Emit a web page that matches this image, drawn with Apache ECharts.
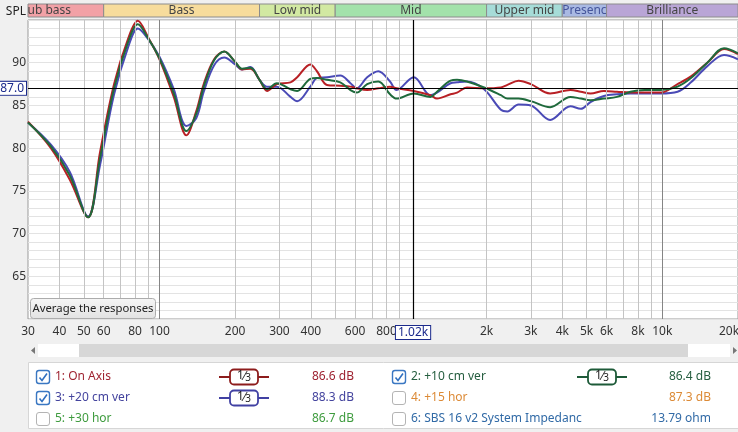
<!DOCTYPE html>
<html>
<head>
<meta charset="utf-8">
<script src="https://cdn.jsdelivr.net/npm/echarts@6/dist/echarts.min.js"></script>
<style>
html, body { margin: 0; padding: 0; background: #f0f0f0; }
#lineChart { width: 738px; height: 432px; }
</style>
</head>
<body>
<div id="lineChart"></div>
<script>
// frequencies (Hz) the three responses were read at
var freqs = [30, 37, 44, 52, 58, 66, 75, 82, 90, 100,
    114, 128, 140, 150, 165, 181, 200, 213, 230, 250,
    268, 293, 332, 353, 398, 423, 464, 524, 575, 609,
    670, 742, 826, 877, 1026, 1196, 1270, 1438, 1526, 1670,
    1955, 2280, 2420, 2680, 3000, 3580, 4310, 4740, 5180, 5860,
    6600, 7470, 8500, 9840, 11500, 13000, 15100, 17600, 20000];

var onAxis = [83.1, 80.0, 76.3, 71.9, 79.5, 87.5, 92.8, 94.9, 93.0, 90.4,
    86.0, 81.5, 84.3, 87.5, 90.4, 91.3, 90.1, 89.2, 89.3, 88.0,
    86.7, 87.5, 87.7, 88.3, 89.8, 89.0, 87.4, 87.3, 87.2, 87.0,
    86.8, 87.0, 87.2, 87.0, 86.7, 86.2, 85.8, 86.3, 86.5, 87.1,
    87.0, 87.1, 87.4, 87.9, 87.5, 86.4, 86.8, 86.6, 86.4, 86.7,
    86.6, 86.5, 86.5, 86.5, 87.5, 88.4, 90.0, 91.6, 91.0];

var ver10 = [83.0, 80.2, 76.8, 71.9, 78.8, 87.0, 92.4, 94.5, 92.9, 90.5,
    86.4, 82.0, 84.0, 87.2, 90.3, 91.3, 90.1, 89.3, 89.4, 88.0,
    86.9, 87.6, 86.9, 86.7, 88.1, 88.2, 88.0, 87.7, 86.8, 86.5,
    87.5, 87.8, 86.3, 85.8, 86.4, 86.0, 86.6, 87.9, 88.0, 87.8,
    87.1, 86.2, 85.8, 85.8, 85.5, 84.8, 86.0, 85.8, 85.6, 85.8,
    86.0, 86.6, 86.8, 86.8, 87.2, 88.2, 90.0, 91.7, 91.1];

var ver20 = [83.0, 80.4, 77.2, 72.0, 78.0, 86.3, 91.8, 94.0, 92.8, 90.7,
    86.9, 82.6, 83.5, 86.6, 89.7, 90.6, 89.8, 89.2, 89.5, 88.0,
    87.2, 87.2, 86.0, 85.5, 87.2, 88.2, 88.3, 88.5, 87.6, 87.0,
    88.3, 89.0, 87.8, 86.8, 88.3, 86.2, 86.5, 87.6, 87.7, 87.8,
    86.9, 84.5, 84.3, 85.1, 85.0, 83.3, 84.9, 84.6, 85.4, 86.1,
    86.3, 86.4, 86.4, 86.4, 86.6, 87.7, 89.6, 90.9, 90.4];

// tick labels
var xLabels = [30, 40, 50, 60, 80, 100, 200, 300, 400, 600, 800, 1020, 2000, 3000, 4000, 5000, 6000, 8000, 10000, 20000];
var yLabels = [65, 70, 75, 80, 85, 87, 90];
var cursorFreq = 1020;
var cursorSpl = 87;

// band strip along the top
var bandNames = ['ub bass', 'Bass', 'Low mid', 'Mid', 'Upper mid', 'Presenc', 'Brilliance'];
var bandEdges = [30, 60, 250, 500, 2000, 4000, 6000, 20000];
var bandColors = ['#f2a1a6', '#f7dc9c', '#d2e9a2', '#a3e2ab', '#a6dcd8', '#a9b9e3', '#b9a5d6'];

// vertical grid lines
var minorFreqs = [40, 50, 60, 70, 80, 90, 200, 300, 400, 500, 600, 700, 800, 900,
    2000, 3000, 4000, 5000, 6000, 7000, 8000, 9000];
var decadeFreqs = [100, 10000];

var font = 'Noto Sans';

function pairs(vals) {
    return freqs.map(function (f, i) { return [f, vals[i]]; });
}

var bandAreas = bandNames.map(function (n, i) {
    return [{
        name: n,
        xAxis: bandEdges[i],
        itemStyle: { color: bandColors[i] },
        label: {
            position: i === 0 ? 'insideLeft' : 'inside',
            distance: 0,
            color: i === 5 ? '#44549a' : '#444'
        }
    }, { xAxis: bandEdges[i + 1] }];
});

var gridLines = minorFreqs.map(function (f) {
    return { xAxis: f, lineStyle: { color: '#c4c4c4' } };
}).concat(decadeFreqs.map(function (f) {
    return { xAxis: f, lineStyle: { color: '#858585' } };
}));

// legend panel drawn with graphic elements
var rows = [377, 398, 419];
var legendItems = [
    { x: 36, row: 0, checked: true, name: '1: On Axis', color: '#9e2230', val: '86.6 dB', valX: 354, badge: '#8d1c1c', badgeX: 219 },
    { x: 36, row: 1, checked: true, name: '3: +20 cm ver', color: '#44449e', val: '88.3 dB', valX: 354, badge: '#4141a3', badgeX: 219 },
    { x: 36, row: 2, checked: false, name: '5: +30 hor', color: '#3f9c3f', val: '86.7 dB', valX: 354 },
    { x: 392, row: 0, checked: true, name: '2: +10 cm ver', color: '#265e40', val: '86.4 dB', valX: 711, badge: '#1d5a38', badgeX: 577 },
    { x: 392, row: 1, checked: false, name: '4: +15 hor', color: '#dc8a36', val: '87.3 dB', valX: 711 },
    { x: 392, row: 2, checked: false, name: '6: SBS 16 v2 System Impedanc', color: '#316aa6', val: '13.79 ohm', valX: 711 }
];

var graphics = [
    // Average button
    { type: 'rect', shape: { x: 30.5, y: 298.5, width: 125, height: 20, r: 3 },
      style: { fill: new echarts.graphic.LinearGradient(0, 0, 0, 1, [{ offset: 0, color: '#f6f6f6' }, { offset: 1, color: '#e2e2e2' }]), stroke: '#acacac' }, z: 100 },
    { type: 'text', x: 93, y: 308.5, style: { text: 'Average the responses', font: '11.3px ' + font, fill: '#222', align: 'center', verticalAlign: 'middle' }, z: 101 },
    // scrollbar
    { type: 'rect', shape: { x: 28, y: 344, width: 710, height: 13 }, style: { fill: '#f0f0f0' } },
    { type: 'rect', shape: { x: 38, y: 344, width: 41, height: 13 }, style: { fill: '#fff' } },
    { type: 'rect', shape: { x: 688, y: 344, width: 42, height: 13 }, style: { fill: '#fff' } },
    { type: 'rect', shape: { x: 79, y: 344, width: 609, height: 13 }, style: { fill: '#d7d7d7' } },
    { type: 'polygon', shape: { points: [[35, 347], [35, 354], [31, 350.5]] }, style: { fill: '#777' } },
    { type: 'polygon', shape: { points: [[733, 347], [733, 354], [737, 350.5]] }, style: { fill: '#777' } },
    // legend panel
    { type: 'rect', shape: { x: 28.5, y: 362.5, width: 710, height: 66 }, style: { fill: '#fff', stroke: '#d6d6d6' } }
];

legendItems.forEach(function (it) {
    var cy = rows[it.row];
    graphics.push({ type: 'rect', shape: { x: it.x + 0.5, y: cy - 6.5, width: 13, height: 13, r: 2.5 },
        style: { fill: '#fff', stroke: it.checked ? '#3a77c2' : '#b4b4b4', lineWidth: it.checked ? 1.4 : 1 }, z: 10 });
    if (it.checked) {
        graphics.push({ type: 'polyline', shape: { points: [[it.x + 3.5, cy + 0.5], [it.x + 6, cy + 3.5], [it.x + 11, cy - 3.5]] },
            style: { stroke: '#2f6fbf', lineWidth: 1.6, fill: null }, z: 11 });
    }
    graphics.push({ type: 'text', x: it.x + 19, y: cy, style: { text: it.name, font: '12px ' + font, fill: it.color, verticalAlign: 'middle' }, z: 10 });
    graphics.push({ type: 'text', x: it.valX, y: cy, style: { text: it.val, font: '12px ' + font, fill: it.color, align: 'right', verticalAlign: 'middle' }, z: 10 });
    if (it.badge) {
        var bx = it.badgeX;
        graphics.push({ type: 'line', shape: { x1: bx, y1: cy, x2: bx + 50, y2: cy }, style: { stroke: it.badge, lineWidth: 2 }, z: 10 });
        graphics.push({ type: 'rect', shape: { x: bx + 11, y: cy - 7.5, width: 28, height: 15, r: 4 }, style: { fill: '#fff', stroke: it.badge, lineWidth: 1.8 }, z: 11 });
        graphics.push({ type: 'text', x: bx + 25, y: cy, z: 12,
            style: { text: '{a|1}{b|⁄}{c|3}', align: 'center', verticalAlign: 'middle',
                rich: {
                    a: { font: '12px ' + font, fill: '#222', padding: [0, 0, 3, 0] },
                    b: { font: '12px ' + font, fill: '#222' },
                    c: { font: '10px ' + font, fill: '#222', padding: [3, 0, 0, 0] }
                } } });
    }
});

var boxLabel = { color: '#1b2a8c', borderColor: '#1b2a8c', borderWidth: 1, backgroundColor: '#fff', padding: [1, 2, 0, 2], fontFamily: font, fontSize: 12 };

var orderEcharts = echarts.init(document.getElementById('lineChart'));
orderEcharts.setOption({
    backgroundColor: '#f0f0f0',
    animation: false,
    textStyle: { fontFamily: font },
    grid: [
        { left: 28, right: 0, top: 20, bottom: 113, show: true, backgroundColor: '#fff', borderColor: '#9a9a9a', borderWidth: 1, outerBoundsMode: 'none', containLabel: false },
        { left: 28, right: 0, top: 4, height: 13, outerBoundsMode: 'none', containLabel: false }
    ],
    xAxis: [{
        type: 'log',
        logBase: 10,
        min: 30,
        max: 20000,
        gridIndex: 0,
        axisLine: { show: false },
        axisTick: { show: false },
        splitLine: { show: false },
        axisLabel: {
            customValues: xLabels,
            margin: 7,
            fontSize: 12,
            fontFamily: font,
            color: '#333',
            hideOverlap: false,
            formatter: function (v) {
                if (v === cursorFreq) return '{cur|1.02k}';
                if (v === 20000) return '{end|20k}';
                return v >= 1000 ? (v / 1000) + 'k' : '' + v;
            },
            rich: {
                cur: boxLabel,
                end: { fontSize: 12, fontFamily: font, color: '#333', padding: [0, 18, 0, 0] }
            }
        }
    }, {
        type: 'log',
        logBase: 10,
        min: 30,
        max: 20000,
        gridIndex: 1,
        show: false
    }],
    yAxis: [{
        type: 'value',
        min: 60,
        max: 95,
        interval: 1,
        gridIndex: 0,
        name: 'SPL',
        nameLocation: 'end',
        nameGap: 2,
        nameTextStyle: { align: 'right', fontSize: 12, fontFamily: font, color: '#222', padding: [0, 2, 0, 0] },
        axisLine: { show: false },
        axisTick: { show: false },
        splitLine: { show: true, lineStyle: { color: '#e3e3e3' } },
        axisLabel: {
            customValues: yLabels,
            margin: 2,
            fontSize: 12,
            fontFamily: font,
            color: '#333',
            formatter: function (v) {
                return v === cursorSpl ? '{cur|87.0}' : '' + v;
            },
            rich: { cur: boxLabel }
        }
    }, {
        type: 'value',
        min: 0,
        max: 1,
        gridIndex: 1,
        show: false
    }],
    series: [
        {
            name: 'grid',
            type: 'line',
            data: [],
            z: 1,
            markLine: {
                silent: true,
                symbol: ['none', 'none'],
                label: { show: false },
                lineStyle: { type: 'solid', width: 1 },
                data: gridLines
            }
        },
        {
            name: 'bands',
            type: 'line',
            xAxisIndex: 1,
            yAxisIndex: 1,
            data: [],
            markArea: {
                silent: true,
                itemStyle: { borderColor: '#8c8c8c', borderWidth: 1 },
                label: { show: true, fontSize: 12, fontFamily: font },
                data: bandAreas
            }
        },
        {
            name: '3: +20 cm ver',
            type: 'line',
            data: pairs(ver20),
            smooth: 0.35,
            showSymbol: false,
            z: 3,
            lineStyle: { width: 2, color: '#4a4ab6' },
            itemStyle: { color: '#4a4ab6' }
        },
        {
            name: '2: +10 cm ver',
            type: 'line',
            data: pairs(ver10),
            smooth: 0.35,
            showSymbol: false,
            z: 4,
            lineStyle: { width: 2, color: '#1f6a3c' },
            itemStyle: { color: '#1f6a3c' }
        },
        {
            name: '1: On Axis',
            type: 'line',
            data: pairs(onAxis),
            smooth: 0.35,
            showSymbol: false,
            z: 3,
            lineStyle: { width: 2, color: '#b82025' },
            itemStyle: { color: '#b82025' }
        },
        {
            name: 'cursor',
            type: 'line',
            data: [],
            z: 6,
            markLine: {
                silent: true,
                symbol: ['none', 'none'],
                label: { show: false },
                lineStyle: { type: 'solid', width: 1.2, color: '#000' },
                data: [{ xAxis: cursorFreq }, { yAxis: cursorSpl }]
            }
        }
    ],
    graphic: graphics
});
</script>
</body>
</html>
